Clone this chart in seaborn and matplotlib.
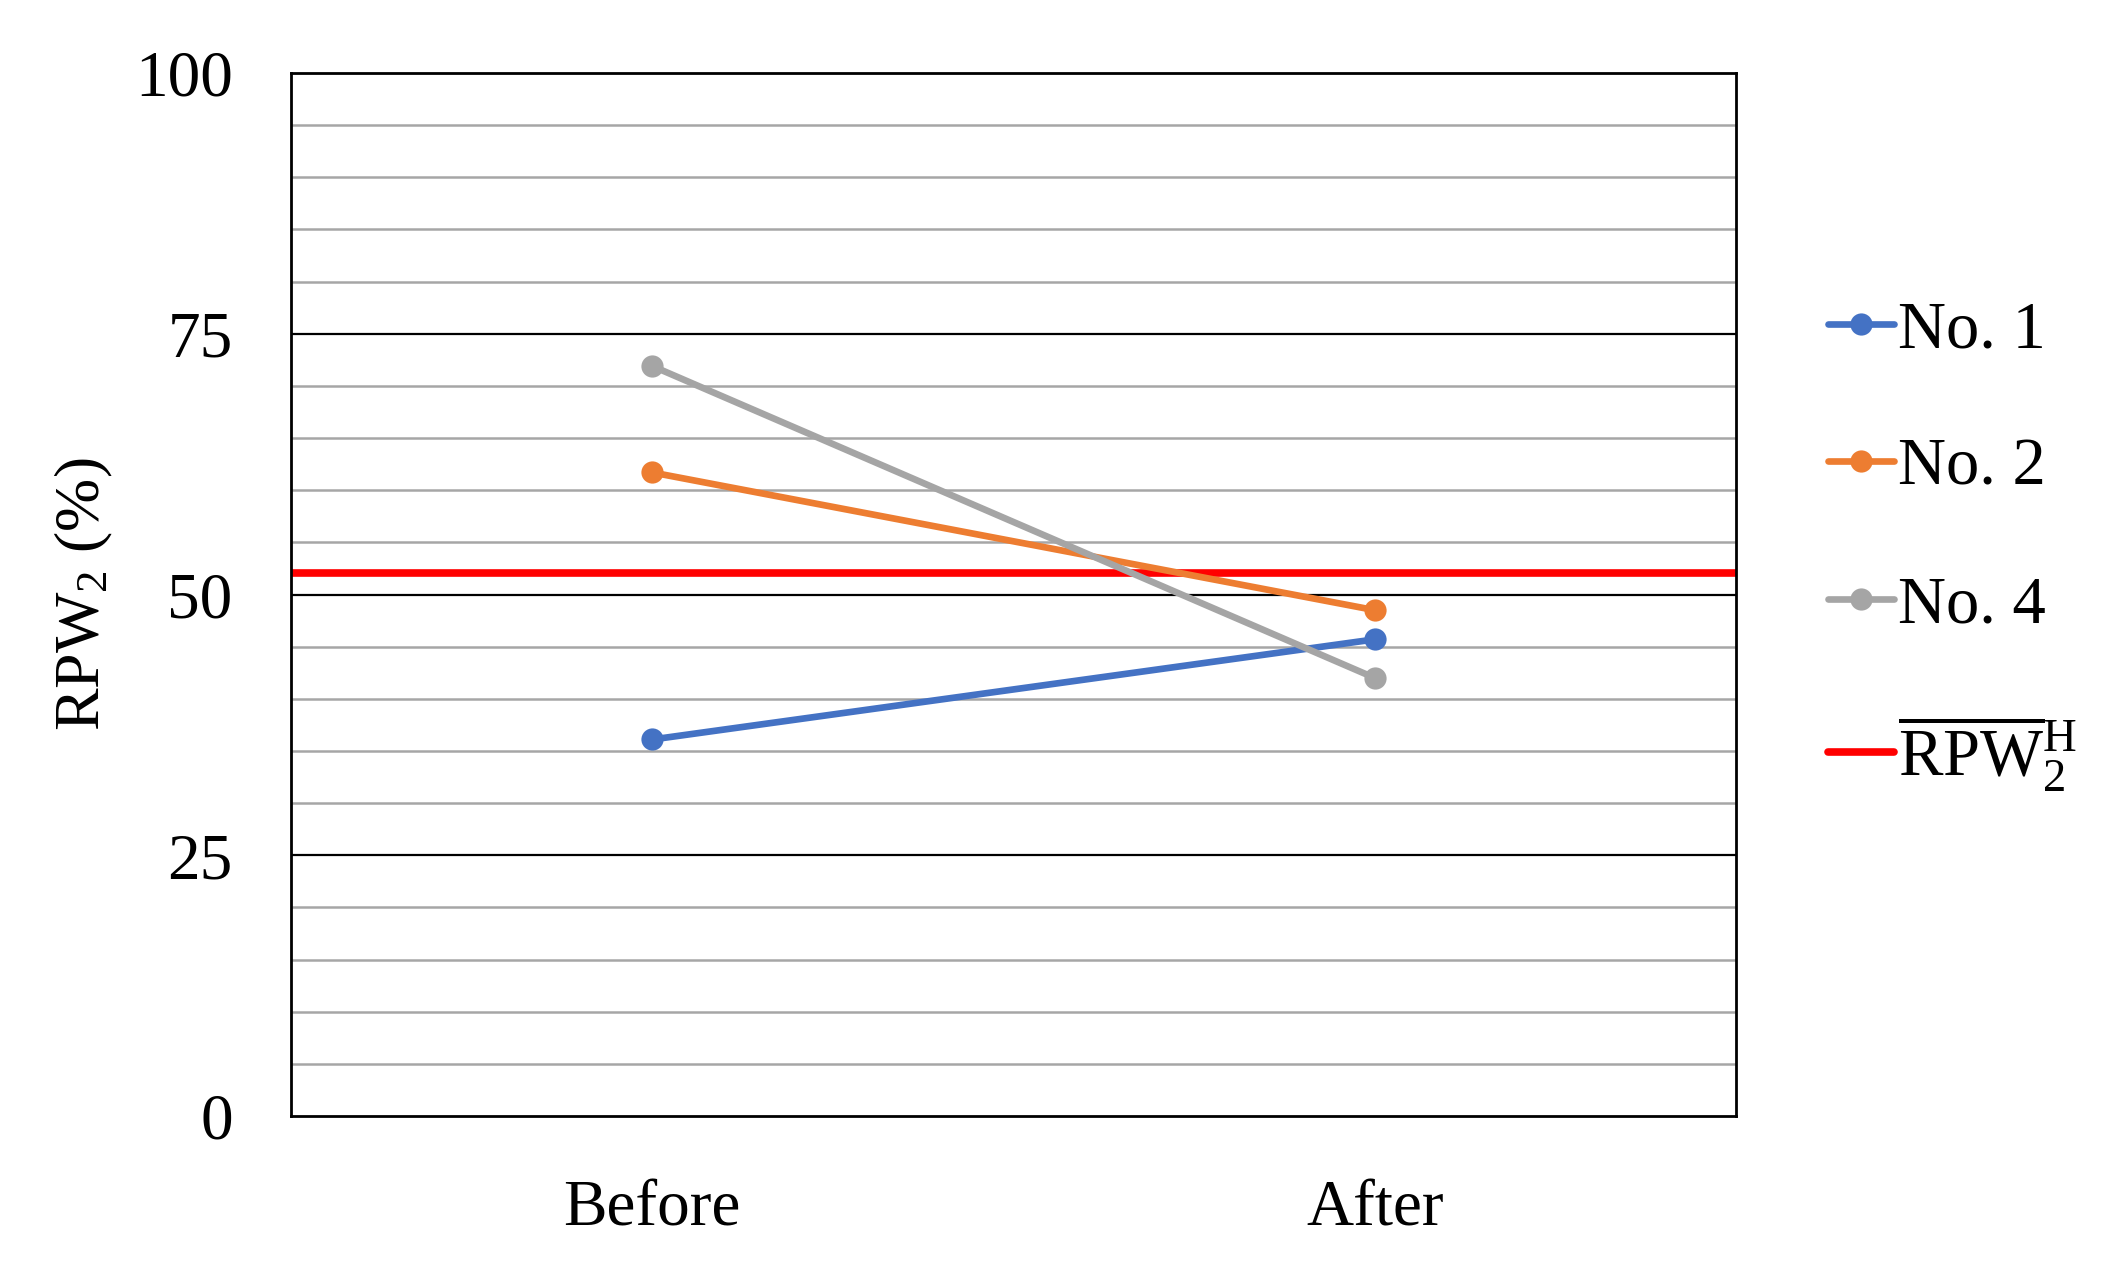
import pandas as pd
import matplotlib.pyplot as plt
import seaborn as sns

# values
stages = ["Before", "After"]
subjects = ["No. 1", "No. 2", "No. 4"]
no1 = [36.1, 45.7]
no2 = [61.7, 48.5]
no4 = [71.9, 42.0]
rpw_h_mean = 52.1
y_ticks = [0, 25, 50, 75, 100]

colors = ["#4472C4", "#ED7D31", "#A5A5A5"]

df = pd.DataFrame({
    "stage": stages * 3,
    "subject": [s for s in subjects for _ in stages],
    "value": no1 + no2 + no4,
})

sns.set_style("white")
plt.rcParams["font.family"] = ["Liberation Serif", "DejaVu Serif"]
plt.rcParams["mathtext.fontset"] = "custom"
plt.rcParams["mathtext.rm"] = "Liberation Serif"
plt.rcParams["mathtext.it"] = "Liberation Serif:italic"
plt.rcParams["text.color"] = "black"
plt.rcParams["axes.labelcolor"] = "black"
plt.rcParams["xtick.color"] = "black"
plt.rcParams["ytick.color"] = "black"

fig = plt.figure(figsize=(21.15, 12.74), dpi=100)
ax = fig.add_axes([0.1376, 0.124, 0.6832, 0.8187])

# gridlines: minor every 5 (gray), major every 25 (black)
for v in range(5, 100, 5):
    if v % 25 == 0:
        ax.axhline(v, color="black", lw=1.6, zorder=0)
    else:
        ax.axhline(v, color="#A6A6A6", lw=1.8, zorder=0)

sns.lineplot(data=df, x="stage", y="value", hue="subject", palette=colors,
             marker="o", markersize=16, markeredgewidth=0, linewidth=4.8,
             sort=False, ax=ax, zorder=3)
ax.axhline(rpw_h_mean, color="#FF0000", lw=5.5,
           label=r"$\overline{\mathrm{RPW}}_2^{\mathrm{H}}$", zorder=2)

ax.set_xlim(-0.5, 1.5)
ax.set_ylim(0, 100)
ax.set_yticks(y_ticks)
ax.tick_params(axis="both", length=0, labelsize=47)
ax.tick_params(axis="x", pad=46)
ax.tick_params(axis="y", pad=42)
ax.set_xlabel("")
ax.set_ylabel(r"RPW$_2$ (%)", fontsize=46, labelpad=14)
for sp in ax.spines.values():
    sp.set_color("black")
    sp.set_linewidth(2)

leg = ax.legend(loc="center left", bbox_to_anchor=(1.045, 0.546), frameon=False,
                fontsize=48, handlelength=1.0, handletextpad=0.05,
                labelspacing=1.15, borderaxespad=0)

fig.savefig("out.png", dpi=100)
plt.close()
